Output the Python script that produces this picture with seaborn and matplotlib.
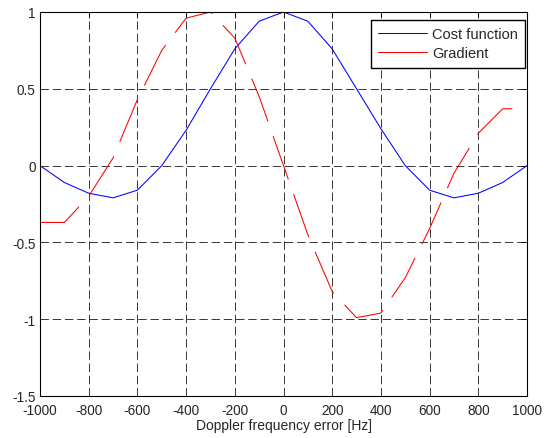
import numpy as np
import pandas as pd
import matplotlib
matplotlib.use("Agg")
import matplotlib.pyplot as plt
import seaborn as sns

# ── data ──────────────────────────────────────────────────
freq = [-1000, -900, -800, -700, -600, -500, -400, -300, -200, -100, 0,
        100, 200, 300, 400, 500, 600, 700, 800, 900, 1000]
cost = [0.0, -0.11, -0.18, -0.21, -0.16, 0.0, 0.23, 0.50, 0.76, 0.94, 1.0,
        0.94, 0.76, 0.50, 0.24, 0.0, -0.16, -0.21, -0.18, -0.11, 0.0]
grad = [-0.37, -0.37, -0.20, 0.05, 0.43, 0.75, 0.96, 1.0, 0.83, 0.45, 0.0,
        -0.45, -0.82, -0.99, -0.96, -0.73, -0.41, -0.05, 0.21, 0.37, 0.37]
xticks = list(range(-1000, 1001, 200))
yticks = [-1.5, -1, -0.5, 0, 0.5, 1]
ytick_labels = ['-1.5', '-1', '-0.5', '0', '0.5', '1']

df = pd.DataFrame({'freq': freq, 'Cost function': cost, 'Gradient': grad})

sns.set_style("white")
plt.rcParams['font.family'] = ['Liberation Sans', 'DejaVu Sans']
plt.rcParams['axes.unicode_minus'] = False

fig = plt.figure(figsize=(5.51, 4.39), dpi=100)
ax = fig.add_axes([40/551, 1 - 397/439, 487/551, 384/439])

sns.lineplot(data=df, x='freq', y='Cost function', ax=ax, color='#0000FF',
             lw=0.75, label='Cost function')
sns.lineplot(data=df, x='freq', y='Gradient', ax=ax, color='#FF0000',
             lw=0.75, label='Gradient', linestyle=(0, (44, 15)))

ax.set_xlim(-1000, 1000)
ax.set_ylim(-1.5, 1)
ax.set_xticks(xticks)
ax.set_xticklabels([str(t) for t in xticks])
ax.set_yticks(yticks)
ax.set_yticklabels(ytick_labels)
ax.set_xlabel('Doppler frequency error [Hz]', fontsize=10, labelpad=1)
ax.set_ylabel('')

ax.grid(True, color='black', lw=0.55, linestyle=(0, (11, 5)))
for s in ax.spines.values():
    s.set_color('black')
    s.set_linewidth(0.8)
ax.tick_params(direction='in', top=True, right=True, length=4, width=0.6,
               labelsize=9.8, color='black')
ax.tick_params(axis='x', pad=5)
ax.tick_params(axis='y', pad=3)

leg = ax.legend(loc='upper right', bbox_to_anchor=(525/551, 1 - 21/439),
                bbox_transform=fig.transFigure, borderaxespad=0,
                fontsize=10.5, handlelength=3.4, handletextpad=0.3,
                fancybox=False, framealpha=1, edgecolor='black',
                borderpad=0.5, labelspacing=0.35)
leg.get_frame().set_linewidth(1.0)
for h in leg.legend_handles:
    h.set_linestyle('-')

fig.savefig('out.png', dpi=100)
